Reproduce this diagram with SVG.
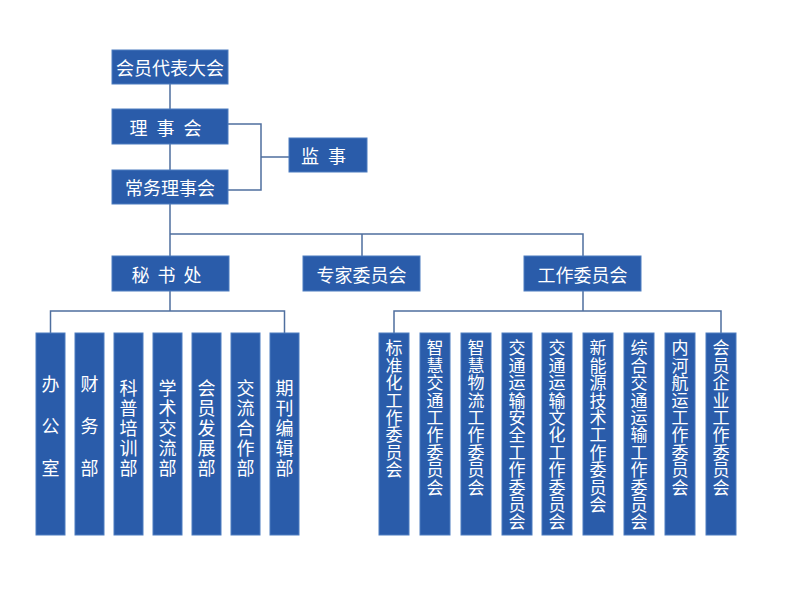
<svg xmlns="http://www.w3.org/2000/svg" width="800" height="600" viewBox="0 0 800 600">
<style>
.box{fill:#2a5caa;stroke:#4c7cc0;stroke-width:1}
.t{fill:#ffffff;font-family:"Noto Sans CJK SC","Noto Sans",sans-serif;font-size:18px;text-anchor:middle;dominant-baseline:central}
.vl{fill:#ffffff;font-family:"Noto Sans CJK SC","Noto Sans",sans-serif;font-size:18px;writing-mode:tb;glyph-orientation-vertical:0;text-orientation:upright}
.v{fill:#ffffff;font-family:"Noto Sans CJK SC","Noto Sans",sans-serif;font-size:17px;letter-spacing:0.4px;writing-mode:tb;glyph-orientation-vertical:0;text-orientation:upright}
.ln{fill:none;stroke:#4f6f9f;stroke-width:1.5}
</style>
<rect width="800" height="600" fill="#ffffff"/>
<g id="connectors">
<path class="ln" d="M170,84V109M170,144V170M170,204V256M228,124H261V190H228M261,157H289M170,234H583V256M362,234V256"/>
<path class="ln" d="M170,291V311M50.5,333V311H284.5V333"/>
<path class="ln" d="M583,291V311M394,333V311H721V333"/>
</g>
<g id="n-daibiao"><rect class="box" x="112" y="50" width="116" height="34"/><text class="t" x="170" y="67">会员代表大会</text></g>
<g id="n-lishi"><rect class="box" x="112" y="109" width="116" height="35"/><text class="t" x="170" y="126.5" letter-spacing="9">理事会</text></g>
<g id="n-changwu"><rect class="box" x="112" y="170" width="116" height="34"/><text class="t" x="170" y="187">常务理事会</text></g>
<g id="n-jianshi"><rect class="box" x="289" y="138" width="78" height="34"/><text class="t" x="328" y="155" letter-spacing="9">监事</text></g>
<g id="n-mishu"><rect class="box" x="112" y="256" width="117" height="35"/><text class="t" x="170.5" y="273.5" letter-spacing="8">秘书处</text></g>
<g id="n-zhuanjia"><rect class="box" x="303" y="256" width="117" height="35"/><text class="t" x="361.5" y="273.5">专家委员会</text></g>
<g id="n-gongzuo"><rect class="box" x="524" y="256" width="117" height="35"/><text class="t" x="582.5" y="273.5">工作委员会</text></g>
<g id="n-l1"><rect class="box" x="36" y="333" width="29" height="202"/><text class="vl" x="50.5" y="375" letter-spacing="24">办公室</text></g>
<g id="n-l2"><rect class="box" x="75" y="333" width="29" height="202"/><text class="vl" x="89.5" y="375" letter-spacing="24">财务部</text></g>
<g id="n-l3"><rect class="box" x="114" y="333" width="29" height="202"/><text class="vl" x="128.5" y="379" letter-spacing="2">科普培训部</text></g>
<g id="n-l4"><rect class="box" x="153" y="333" width="29" height="202"/><text class="vl" x="167.5" y="379" letter-spacing="2">学术交流部</text></g>
<g id="n-l5"><rect class="box" x="192" y="333" width="29" height="202"/><text class="vl" x="206.5" y="379" letter-spacing="2">会员发展部</text></g>
<g id="n-l6"><rect class="box" x="231" y="333" width="29" height="202"/><text class="vl" x="245.5" y="379" letter-spacing="2">交流合作部</text></g>
<g id="n-l7"><rect class="box" x="270" y="333" width="29" height="202"/><text class="vl" x="284.5" y="379" letter-spacing="2">期刊编辑部</text></g>
<g id="n-r1"><rect class="box" x="379" y="333" width="30" height="202"/><text class="v" x="394" y="339.5">标准化工作委员会</text></g>
<g id="n-r2"><rect class="box" x="420" y="333" width="30" height="202"/><text class="v" x="435" y="339.5">智慧交通工作委员会</text></g>
<g id="n-r3"><rect class="box" x="461" y="333" width="30" height="202"/><text class="v" x="476" y="339.5">智慧物流工作委员会</text></g>
<g id="n-r4"><rect class="box" x="502" y="333" width="30" height="202"/><text class="v" x="517" y="339.5">交通运输安全工作委员会</text></g>
<g id="n-r5"><rect class="box" x="542" y="333" width="30" height="202"/><text class="v" x="557" y="339.5">交通运输文化工作委员会</text></g>
<g id="n-r6"><rect class="box" x="583" y="333" width="30" height="202"/><text class="v" x="598" y="339.5">新能源技术工作委员会</text></g>
<g id="n-r7"><rect class="box" x="624" y="333" width="30" height="202"/><text class="v" x="639" y="339.5">综合交通运输工作委员会</text></g>
<g id="n-r8"><rect class="box" x="665" y="333" width="30" height="202"/><text class="v" x="680" y="339.5">内河航运工作委员会</text></g>
<g id="n-r9"><rect class="box" x="706" y="333" width="30" height="202"/><text class="v" x="721" y="339.5">会员企业工作委员会</text></g>
</svg>
